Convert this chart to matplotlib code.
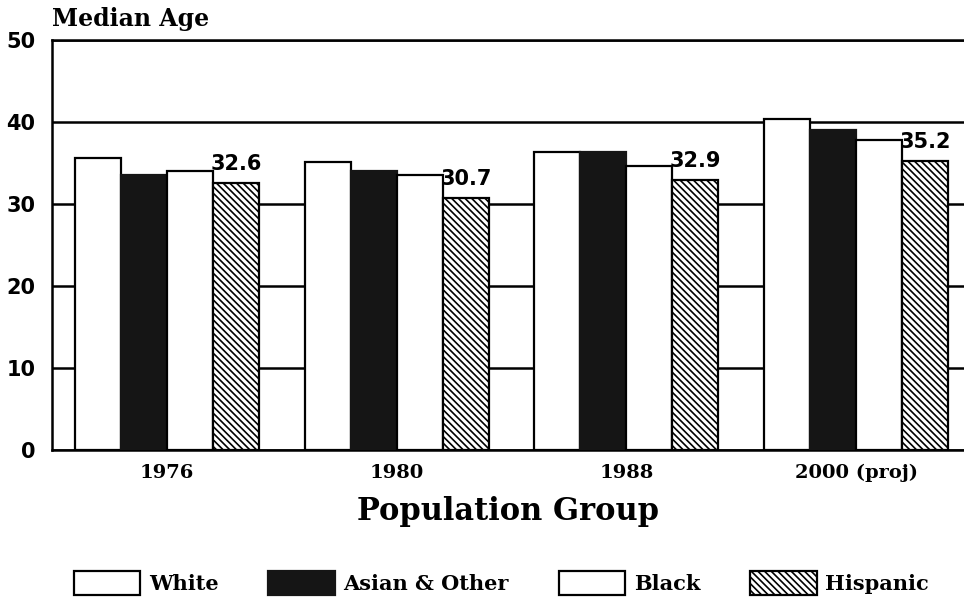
import matplotlib
matplotlib.use("Agg")
import matplotlib.pyplot as plt
import numpy as np

plt.rcParams['hatch.linewidth'] = 1.2

groups = ["1976", "1980", "1988", "2000 (proj)"]
series = ["White", "Asian & Other", "Black", "Hispanic"]
white = [35.6, 35.1, 36.4, 40.4]
asian = [33.5, 34.0, 36.4, 39.0]
black = [34.0, 33.5, 34.6, 37.8]
hispanic = [32.6, 30.7, 32.9, 35.2]
hisp_labels = ["32.6", "30.7", "32.9", "35.2"]
yticks = [0, 10, 20, 30, 40, 50]

fig = plt.figure(figsize=(9.64, 6.02), dpi=100)
ax = fig.add_axes([0.054, 0.2525, 0.946, 0.681])

x = np.arange(len(groups))
w = 0.2
styles = [
    dict(facecolor="white", edgecolor="black", hatch=None),
    dict(facecolor="#151515", edgecolor="#151515", hatch=None),
    dict(facecolor="white", edgecolor="black", hatch=None),
    dict(facecolor="white", edgecolor="black", hatch="\\\\\\\\\\"),
]
data = [white, asian, black, hispanic]
handles = []
for i, (vals, st, name) in enumerate(zip(data, styles, series)):
    bars = ax.bar(x + (i - 1.5) * w, vals, width=w, facecolor=st["facecolor"],
                  edgecolor=st["edgecolor"], hatch=st["hatch"], linewidth=1.6,
                  zorder=3, label=name)
    handles.append(bars)

for xi, v, lab in zip(x, hispanic, hisp_labels):
    ax.text(xi + 1.0 * w - 0.01, v + 1.1, lab, ha="left", va="bottom",
            fontsize=15, fontweight="bold", family="DejaVu Sans", zorder=4)

ax.set_ylim(0, 50)
ax.set_xlim(-0.5, 3.47)
ax.set_yticks(yticks)
ax.set_yticklabels([str(t) for t in yticks], fontsize=15, fontweight="bold",
                   family="DejaVu Sans")
ax.set_xticks(x)
ax.set_xticklabels(groups, fontsize=14, fontweight="bold", family="DejaVu Serif")
ax.tick_params(axis="y", length=0, pad=12)
ax.tick_params(axis="x", length=0, pad=10)
ax.yaxis.grid(True, color="black", linewidth=1.8, zorder=0)
ax.set_axisbelow(True)
ax.spines["right"].set_visible(False)
for s in ["top", "left", "bottom"]:
    ax.spines[s].set_linewidth(1.8)

ax.set_xlabel("Population Group", fontsize=22, fontweight="bold",
              family="DejaVu Serif", labelpad=10)
fig.text(0.054, 0.948, "Median Age", fontsize=17, fontweight="bold",
         family="DejaVu Serif", ha="left", va="bottom")

leg = fig.legend(handles=handles, labels=series, loc="lower center",
                 bbox_to_anchor=(0.52, -0.02), ncol=4, frameon=False,
                 prop=dict(size=15, weight="bold", family="DejaVu Serif"),
                 handlelength=3.2, handleheight=1.4, columnspacing=2.4,
                 handletextpad=0.4)

fig.savefig("out.png", dpi=100)
